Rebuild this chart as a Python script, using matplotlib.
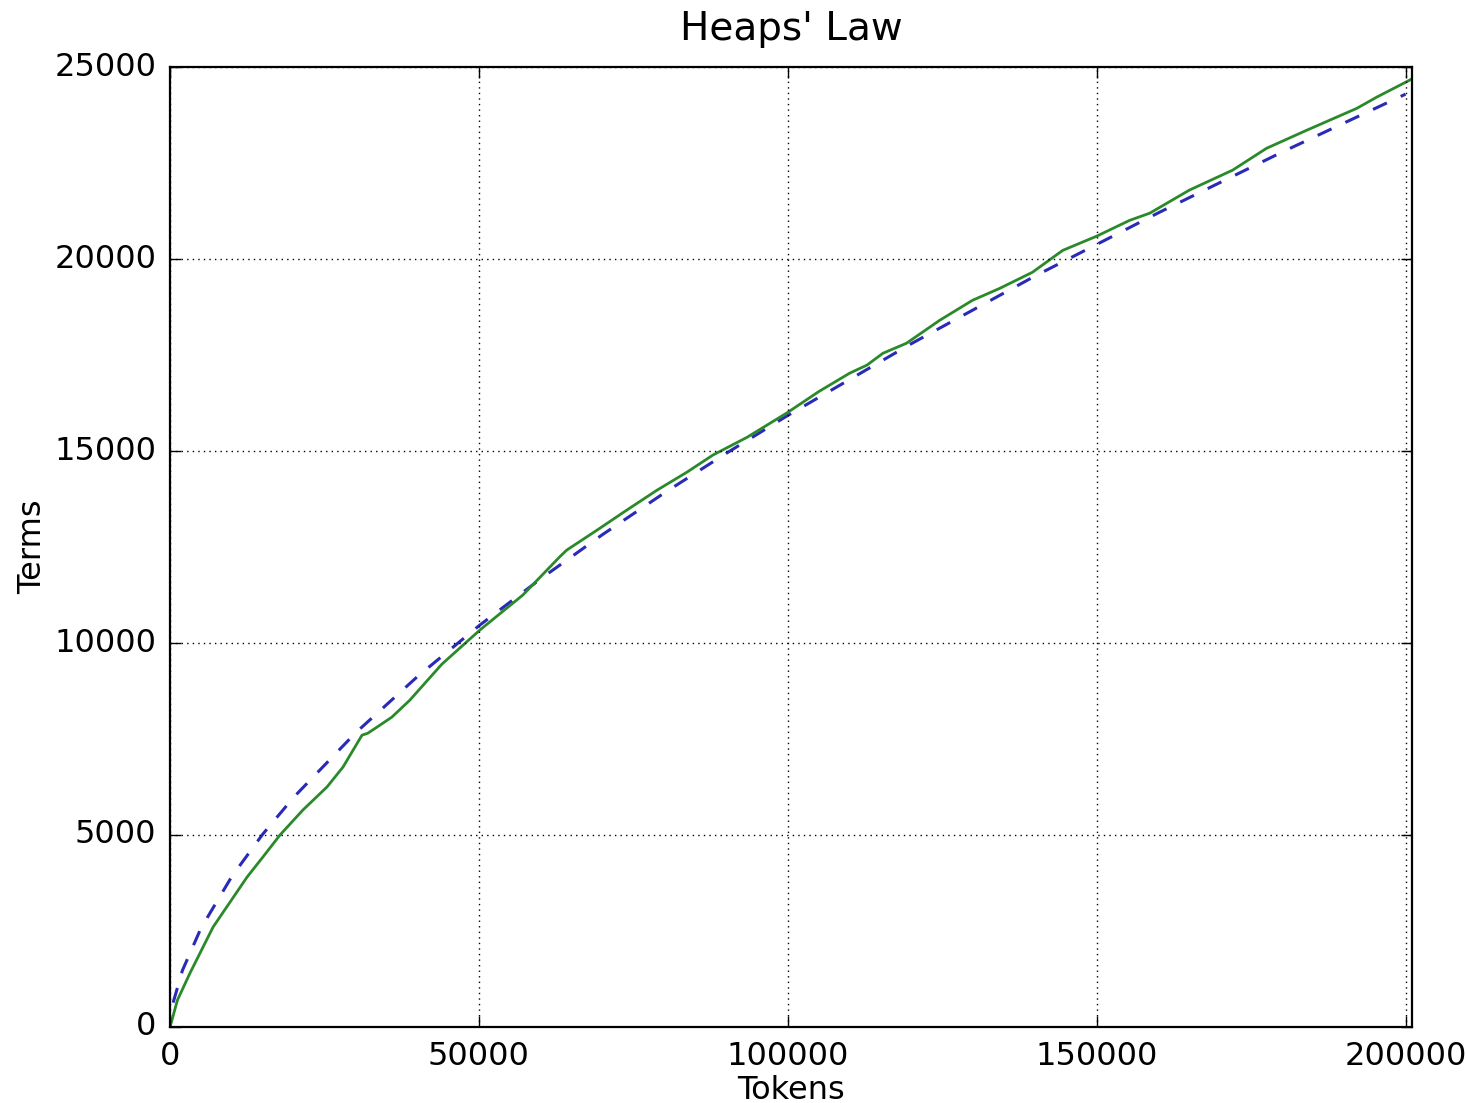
import matplotlib
matplotlib.use("Agg")
import matplotlib.pyplot as plt

plt.style.use("classic")

# Observed vocabulary growth (green)
tokens = [0, 1200, 3240, 6960, 12450, 15050, 17800, 21500, 25400, 28000, 31070, 32000,
          33500, 35900, 38800, 44000, 50160, 57100, 63100, 64200, 69100, 73900, 78800,
          83650, 87900, 93400, 99800, 105000, 110000, 112800, 115400, 119200, 124600,
          129900, 134300, 139600, 144500, 150000, 155300, 158600, 165000, 172000,
          177500, 184000, 192100, 195300, 200600, 201000]
terms = [0, 700, 1406, 2600, 3900, 4430, 5000, 5650, 6250, 6770, 7600, 7650,
         7810, 8070, 8510, 9450, 10340, 11250, 12250, 12420, 12940, 13460, 13980,
         14450, 14900, 15360, 15990, 16550, 17030, 17240, 17550, 17810, 18410,
         18930, 19240, 19660, 20230, 20600, 21010, 21200, 21800, 22320,
         22890, 23360, 23930, 24220, 24660, 24700]

# Heaps' law fit (blue dashed)
fit_tokens = [500, 2000, 5000, 10000, 15000, 20000, 30000, 40000, 50000, 60000,
              70000, 80000, 90000, 100000, 120000, 140000, 160000, 180000, 200000]
fit_terms = [632, 1470, 2570, 3920, 5020, 5980, 7655, 9120, 10450, 11675,
             12825, 13910, 14940, 15930, 17800, 19560, 21210, 22790, 24300]

fig = plt.figure(figsize=(14.66, 11.03), dpi=100, facecolor="white")
ax = fig.add_axes([0.116, 0.069, 0.847, 0.870])

line_fit, = ax.plot(fit_tokens, fit_terms, color="#2a2ab8", linestyle="--",
                    linewidth=2.2)
line_fit.set_dashes((11, 11))
ax.plot(tokens, terms, color="#2a8a2a", linestyle="-", linewidth=2.0)

ax.set_xlim(0, 201000)
ax.set_ylim(0, 25000)
ax.set_xticks([0, 50000, 100000, 150000, 200000])
ax.set_yticks([0, 5000, 10000, 15000, 20000, 25000])
ax.grid(True, color="black", linestyle=":", linewidth=1.0)
ax.tick_params(labelsize=23, length=8, width=1)
ax.tick_params(axis="x", pad=10)
ax.tick_params(axis="y", pad=10)
for s in ax.spines.values():
    s.set_linewidth(1.6)

ax.set_title("Heaps' Law", fontsize=28, pad=20)
ax.set_xlabel("Tokens", fontsize=23, labelpad=2)
ax.set_ylabel("Terms", fontsize=23, labelpad=4)

fig.savefig("out.png", dpi=100, facecolor="white")
